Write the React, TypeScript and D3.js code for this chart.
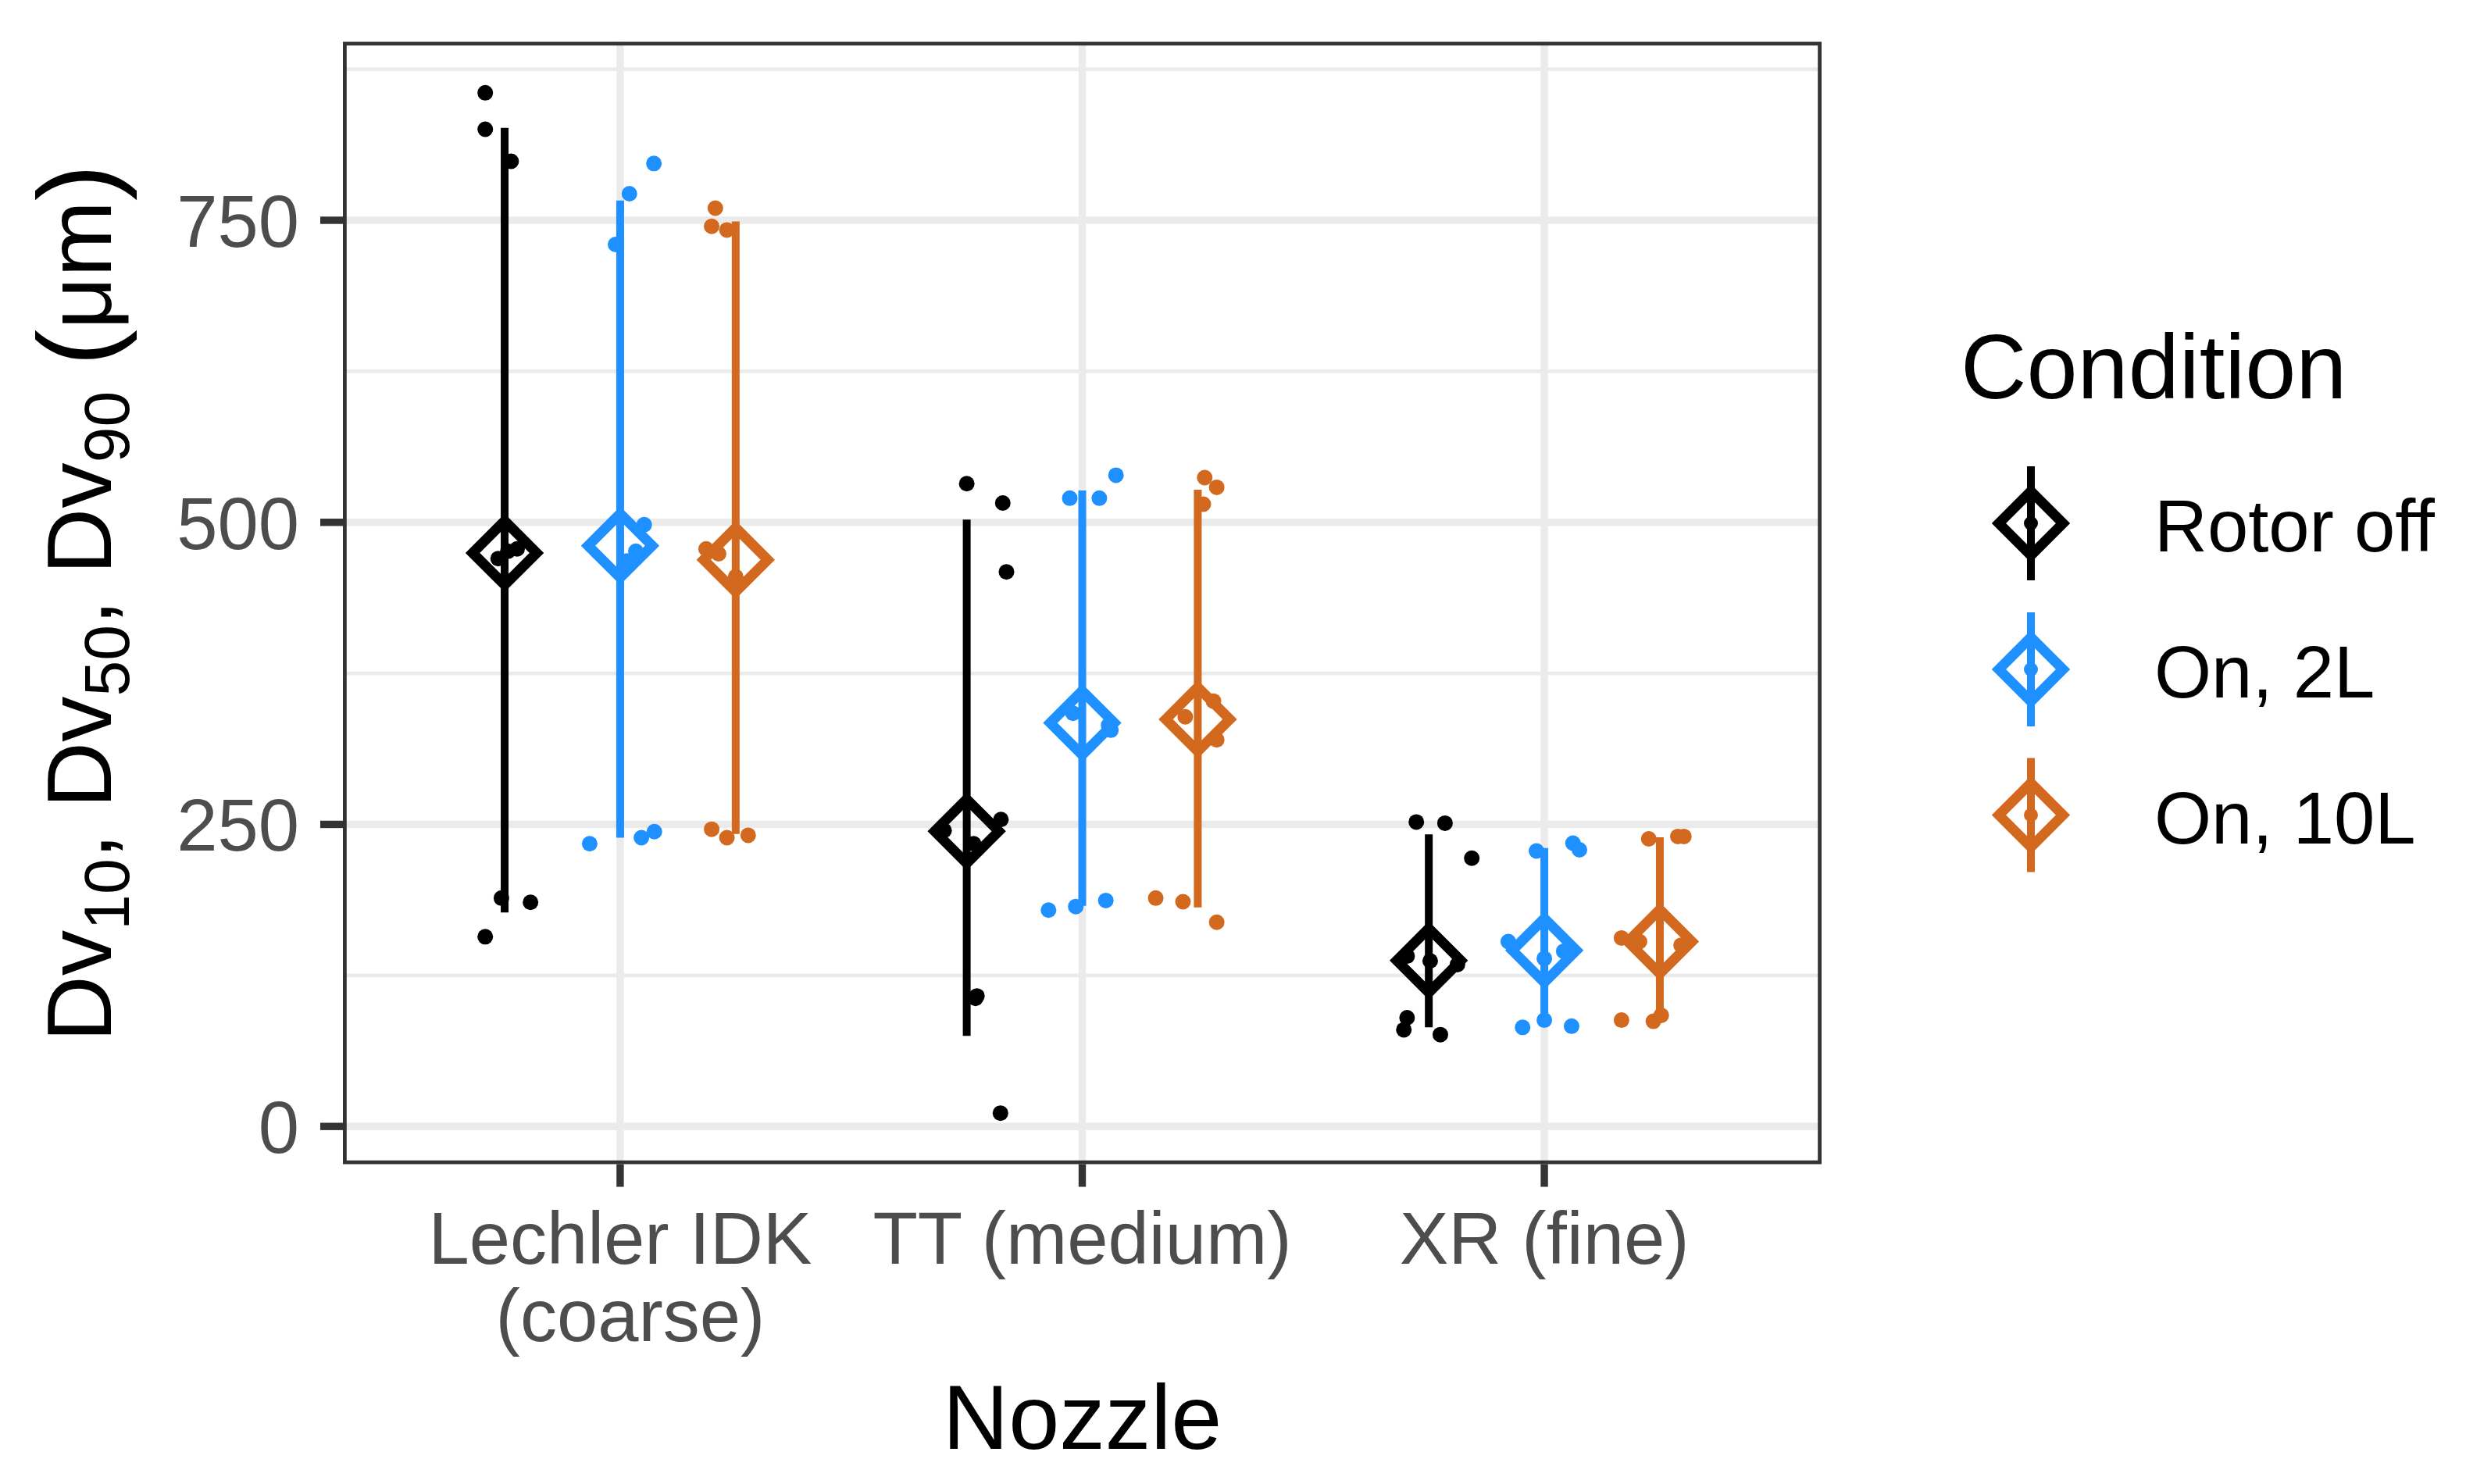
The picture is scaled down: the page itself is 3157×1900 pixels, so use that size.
import React from "react";
import * as d3 from "d3";

// ---------- data ----------
const nozzles = ["Lechler IDK (coarse)", "TT (medium)", "XR (fine)"];
const nozzleTickLines = [["Lechler IDK", " (coarse)"], ["TT (medium)"], ["XR (fine)"]];
const conditions = ["Rotor off", "On, 2L", "On, 10L"];
const yTicks = [0, 250, 500, 750];
const yMinorTicks = [125, 375, 625, 875];

// replicate values [nozzle][condition][replicate] (µm)
const dv10 = [
  [[189, 185.5, 157], [234, 239, 244], [246, 239, 241]],
  [[108, 106, 11], [179, 182, 187], [189, 186, 169]],
  [[90, 80, 76], [82, 83, 88], [88, 87, 92]],
];
const dv50 = [
  [[478, 470, 476], [498, 476, 468], [478, 474, 455]],
  [[254, 245, 234], [342, 328, 332], [339, 352, 320]],
  [[141, 134, 137], [153, 139, 145], [156, 153, 150]],
];
const dv90 = [
  [[855.5, 825.3, 798.8], [797, 772, 730], [760, 745, 742]],
  [[532, 516, 459], [520, 520, 539], [537, 529, 515]],
  [[252, 251, 222], [228, 234.5, 229], [238, 240, 240]],
];

// horizontal jitter of each replicate (in category-width units)
const jit10 = [
  [[-0.007, 0.056, -0.042], [-0.066, 0.046, 0.074], [-0.052, -0.019, 0.027]],
  [[0.022, 0.019, 0.073], [-0.073, -0.014, 0.051], [-0.091, -0.032, 0.041]],
  [[-0.047, -0.054, 0.025], [-0.047, 0.059, 0.0], [-0.083, -0.014, 0.003]],
];
const jit50 = [
  [[0.027, -0.014, 0.007], [0.052, 0.034, 0.015], [-0.064, -0.037, 0.0]],
  [[0.074, -0.049, 0.015], [-0.02, 0.062, 0.057], [-0.027, 0.034, 0.041]],
  [[-0.047, 0.062, 0.003], [-0.078, 0.0, 0.042], [-0.083, -0.044, 0.046]],
];
const jit90 = [
  [[-0.042, -0.042, 0.014], [0.073, 0.02, -0.01], [-0.044, -0.052, -0.019]],
  [[0.0, 0.078, 0.086], [-0.027, 0.037, 0.073], [0.015, 0.041, 0.012]],
  [[-0.027, 0.035, 0.093], [-0.017, 0.062, 0.076], [-0.024, 0.039, 0.052]],
];

// ---------- styles ----------
const W = 3157;
const H = 1900;
const FONT = "'Liberation Sans', Arial, Helvetica, sans-serif";
const COLORS = ["#000000", "#1E90FF", "#D2691E"];
const PANEL = { left: 439, right: 2332, top: 53.5, bottom: 1490.5 };
const DODGE = 0.5;
const LINE_W = 10;
const DIAMOND_HALF = 41;
const DIAMOND_STROKE = 13;
const POINT_R = 10;
const GRID = "#EBEBEB";
const AXIS = "#333333";
const TICK_TEXT = "#4D4D4D";

export default function App() {
  const allVals = [dv10, dv50, dv90].flat(3);
  const lo = d3.min(allVals) as number;
  const hi = d3.max(allVals) as number;
  const pad = (hi - lo) * 0.05;
  const y = d3.scaleLinear().domain([lo - pad, hi + pad]).range([PANEL.bottom, PANEL.top]);
  const x = d3.scalePoint<string>().domain(nozzles).range([PANEL.left, PANEL.right]).padding(0.6);
  const step = x.step();
  const dodgeX = (ni: number, ci: number) =>
    (x(nozzles[ni]) as number) + (ci - 1) * (DODGE / 2) * step;

  const diamond = (cx: number, cy: number, r: number) =>
    `M${cx},${cy - r}L${cx + r},${cy}L${cx},${cy + r}L${cx - r},${cy}Z`;

  const groups: any[] = [];
  nozzles.forEach((n, ni) => {
    conditions.forEach((c, ci) => {
      const cx = dodgeX(ni, ci);
      const m10 = d3.mean(dv10[ni][ci]) as number;
      const m50 = d3.mean(dv50[ni][ci]) as number;
      const m90 = d3.mean(dv90[ni][ci]) as number;
      const pts: { px: number; py: number }[] = [];
      [
        [dv10, jit10],
        [dv50, jit50],
        [dv90, jit90],
      ].forEach(([vals, jits]) => {
        (vals as number[][][])[ni][ci].forEach((v, k) => {
          pts.push({ px: cx + (jits as number[][][])[ni][ci][k] * step, py: y(v) });
        });
      });
      groups.push({ key: `${ni}-${ci}`, cx, m10, m50, m90, color: COLORS[ci], pts });
    });
  });

  const legendKeyY = [670, 857, 1043.5];
  const legendKeyX = 2600;

  return (
    <svg
      width={W}
      height={H}
      viewBox={`0 0 ${W} ${H}`}
      style={{ position: "absolute", left: 0, top: 0, background: "#fff" }}
      fontFamily={FONT}
    >
      <rect x={0} y={0} width={W} height={H} fill="#ffffff" />
      {/* panel */}
      <rect
        x={PANEL.left}
        y={PANEL.top}
        width={PANEL.right - PANEL.left}
        height={PANEL.bottom - PANEL.top}
        fill="#ffffff"
      />
      {yMinorTicks.map((t) => (
        <line key={`mi${t}`} x1={PANEL.left} x2={PANEL.right} y1={y(t)} y2={y(t)} stroke={GRID} strokeWidth={4.7} />
      ))}
      {yTicks.map((t) => (
        <line key={`ma${t}`} x1={PANEL.left} x2={PANEL.right} y1={y(t)} y2={y(t)} stroke={GRID} strokeWidth={9.4} />
      ))}
      {nozzles.map((n) => (
        <line key={`vx${n}`} x1={x(n)} x2={x(n)} y1={PANEL.top} y2={PANEL.bottom} stroke={GRID} strokeWidth={9.4} />
      ))}

      {/* ranges */}
      {groups.map((g) => (
        <line key={`r${g.key}`} x1={g.cx} x2={g.cx} y1={y(g.m10)} y2={y(g.m90)} stroke={g.color} strokeWidth={LINE_W} />
      ))}
      {/* diamonds */}
      {groups.map((g) => (
        <path
          key={`d${g.key}`}
          d={diamond(g.cx, y(g.m50), DIAMOND_HALF)}
          fill="none"
          stroke={g.color}
          strokeWidth={DIAMOND_STROKE}
          strokeLinejoin="miter"
        />
      ))}
      {/* jittered replicates */}
      {groups.map((g) =>
        g.pts.map((p: any, i: number) => (
          <circle key={`p${g.key}-${i}`} cx={p.px} cy={p.py} r={POINT_R} fill={g.color} />
        ))
      )}

      {/* panel border */}
      <rect
        x={PANEL.left + 2.4}
        y={PANEL.top + 2.4}
        width={PANEL.right - PANEL.left - 4.8}
        height={PANEL.bottom - PANEL.top - 4.8}
        fill="none"
        stroke={AXIS}
        strokeWidth={4.8}
      />

      {/* y axis */}
      {yTicks.map((t) => (
        <g key={`yt${t}`}>
          <line x1={PANEL.left - 29} x2={PANEL.left} y1={y(t)} y2={y(t)} stroke={AXIS} strokeWidth={9.4} />
          <text x={383} y={y(t) + 34} textAnchor="end" fontSize={94} fill={TICK_TEXT}>
            {t}
          </text>
        </g>
      ))}
      {/* x axis */}
      {nozzles.map((n, i) => (
        <g key={`xt${n}`}>
          <line x1={x(n)} x2={x(n)} y1={PANEL.bottom} y2={PANEL.bottom + 29} stroke={AXIS} strokeWidth={9.4} />
          {nozzleTickLines[i].map((ln, j) => (
            <text
              key={j}
              x={x(n)}
              y={1618 + j * 99}
              textAnchor="middle"
              fontSize={94}
              fill={TICK_TEXT}
              xmlSpace="preserve"
              style={{ whiteSpace: "pre" }}
            >
              {ln}
            </text>
          ))}
        </g>
      ))}

      {/* axis titles */}
      <text x={(PANEL.left + PANEL.right) / 2} y={1855} textAnchor="middle" fontSize={117} fill="#000">
        Nozzle
      </text>
      <text
        transform={`translate(142,${(PANEL.top + PANEL.bottom) / 2}) rotate(-90)`}
        textAnchor="middle"
        fontSize={117}
        fill="#000"
      >
        <tspan>Dv</tspan>
        <tspan fontSize={82} dy={23}>10</tspan>
        <tspan dy={-23}>, Dv</tspan>
        <tspan fontSize={82} dy={23}>50</tspan>
        <tspan dy={-23}>, Dv</tspan>
        <tspan fontSize={82} dy={23}>90</tspan>
        <tspan dy={-23}> </tspan>
        <tspan fontSize={140} dy={4}>(</tspan>
        <tspan dy={-4}>μm</tspan>
        <tspan fontSize={140} dy={4}>)</tspan>
      </text>

      {/* legend */}
      <text x={2510} y={510} fontSize={117} fill="#000">
        Condition
      </text>
      {conditions.map((c, ci) => {
        const ky = legendKeyY[ci];
        return (
          <g key={`lg${c}`}>
            <line x1={legendKeyX} x2={legendKeyX} y1={ky - 73} y2={ky + 73} stroke={COLORS[ci]} strokeWidth={LINE_W} />
            <path
              d={diamond(legendKeyX, ky, DIAMOND_HALF)}
              fill="none"
              stroke={COLORS[ci]}
              strokeWidth={DIAMOND_STROKE}
            />
            <circle cx={legendKeyX} cy={ky} r={9} fill={COLORS[ci]} />
            <text x={2758} y={ky + 36} fontSize={94} fill="#000">
              {c}
            </text>
          </g>
        );
      })}
    </svg>
  );
}
